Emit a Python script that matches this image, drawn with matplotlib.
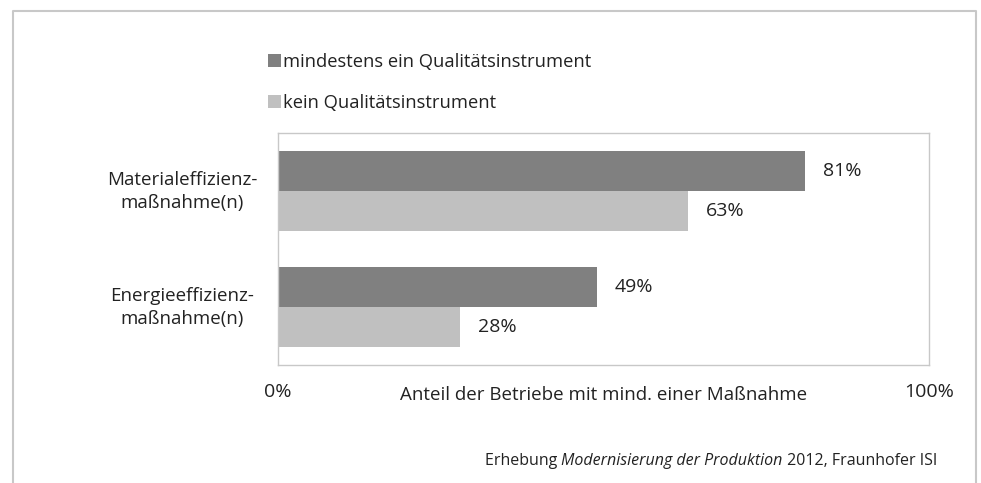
import numpy as np
import matplotlib
matplotlib.use("Agg")
import matplotlib.pyplot as plt
from matplotlib.lines import Line2D
from matplotlib.transforms import ScaledTranslation

plt.rcParams['font.family'] = ['Open Sans', 'DejaVu Sans']

# data
categories = ["Materialeffizienz-\nmaßnahme(n)", "Energieeffizienz-\nmaßnahme(n)"]
series_names = ["mindestens ein Qualitätsinstrument", "kein Qualitätsinstrument"]
mit_qi = [81, 49]
kein_qi = [63, 28]
x_ticks = [0, 100]
x_ticklabels = ["0%", "100%"]
x_title = "Anteil der Betriebe mit mind. einer Maßnahme"
source_parts = ["Erhebung ", "Modernisierung der Produktion", " 2012, Fraunhofer ISI"]

dark = "#808080"
light = "#c0c0c0"
frame = "#c8c8c8"
txt = "#222222"

W, H = 981, 483
fig = plt.figure(figsize=(W / 100, H / 100), dpi=100)
ax = fig.add_axes([278 / W, 118 / H, 651 / W, 232 / H])

y = np.arange(len(categories))
h = 0.345
b1 = ax.barh(y - h / 2, mit_qi, height=h, color=dark, label=series_names[0])
b2 = ax.barh(y + h / 2, kein_qi, height=h, color=light, label=series_names[1])
ax.bar_label(b1, labels=[f"{v}%" for v in mit_qi], padding=13, fontsize=14, color=txt)
ax.bar_label(b2, labels=[f"{v}%" for v in kein_qi], padding=13, fontsize=14, color=txt)

ax.set_xlim(0, 100)
ax.set_ylim(1.5, -0.5)
ax.set_xticks(x_ticks, x_ticklabels)
ax.set_yticks(y, categories, ha="center", multialignment="center", linespacing=1.35)
ax.tick_params(axis="x", length=0, pad=13, labelsize=14, labelcolor=txt)
ax.tick_params(axis="y", length=0, pad=69, labelsize=13.5, labelcolor=txt)
# nudge category labels up a little
up = ScaledTranslation(0, 4 / 100, fig.dpi_scale_trans)
for lbl in ax.get_yticklabels():
    lbl.set_transform(lbl.get_transform() + up)
for s in ax.spines.values():
    s.set_color(frame)
    s.set_linewidth(1)

ax.set_xlabel(x_title, fontsize=13.5, color=txt)
ax.xaxis.set_label_coords(0.5, -0.13)
ax.xaxis.label.set_va("center")

ax.legend(loc="upper left", bbox_to_anchor=(268 / W, 1 - 53 / H), bbox_transform=fig.transFigure,
          frameon=False, fontsize=13.25, handlelength=0.72, handleheight=0.72, handletextpad=0.12,
          labelspacing=1.25, borderpad=0, borderaxespad=0, labelcolor=txt)

# outer frame (bottom edge is cut off)
fig.add_artist(Line2D([13 / W, 13 / W, 976 / W, 976 / W], [0, 1 - 11 / H, 1 - 11 / H, 0],
                      transform=fig.transFigure, color=frame, lw=1.5))

# source note, right-aligned, middle part italic
fs = 11.5
t3 = fig.text(937 / W, 1 - 465 / H, source_parts[2], fontsize=fs, color=txt, ha="right", va="baseline")
t2 = ax.annotate(source_parts[1], xy=(0, 0), xycoords=t3, ha="right", va="bottom",
                 fontsize=fs, color=txt, style="italic", annotation_clip=False)
t1 = ax.annotate(source_parts[0], xy=(0, 0), xycoords=t2, ha="right", va="bottom",
                 fontsize=fs, color=txt, annotation_clip=False)

fig.savefig("out.png", dpi=100)
